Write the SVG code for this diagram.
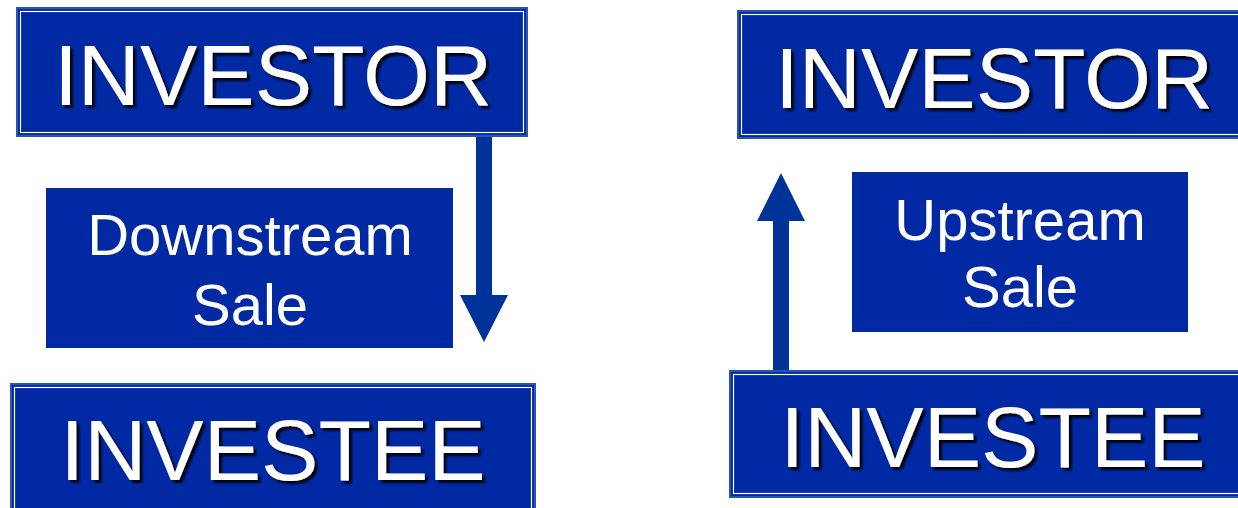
<svg xmlns="http://www.w3.org/2000/svg" width="1238" height="508" viewBox="0 0 1238 508">
<style>
.box{fill:#0029a3;stroke:#2a55b5;stroke-width:2}
.inner{fill:none;stroke:#ffffff;stroke-width:1.2}
.plain{fill:#0029a3}
.big{font-family:"Liberation Sans",Arial,sans-serif;font-size:86px;fill:#ffffff;text-anchor:middle;filter:url(#sh)}
.mid{font-family:"Liberation Sans",Arial,sans-serif;font-size:58px;fill:#ffffff;text-anchor:middle}
.arrow{fill:#003399}
</style>
<defs>
<filter id="sh" x="-10%" y="-20%" width="120%" height="150%">
<feDropShadow dx="3" dy="3" stdDeviation="1" flood-color="#000000" flood-opacity="0.9"/>
</filter>
</defs>
<rect width="1238" height="508" fill="#ffffff"/>
<g id="connectors">
<path class="arrow" d="M476,137 H492 V295 H508 L484,342 L460,295 H476 Z"/>
<path class="arrow" d="M773,372 V221 H757 L781,173 L805,221 H789 V372 Z"/>
</g>
<g id="investor-left">
<rect class="box" x="17" y="8" width="510" height="128"/>
<rect class="inner" x="20.5" y="11.5" width="503" height="121"/>
<text class="big" x="273" y="105">INVESTOR</text>
</g>
<g id="downstream">
<rect class="plain" x="46" y="188" width="407" height="160"/>
<text class="mid" x="250" y="255">Downstream</text>
<text class="mid" x="250" y="325">Sale</text>
</g>
<g id="investee-left">
<rect class="box" x="11" y="384" width="524" height="130"/>
<rect class="inner" x="14.5" y="387.5" width="517" height="130"/>
<text class="big" x="273" y="480">INVESTEE</text>
</g>
<g id="investor-right">
<rect class="box" x="738" y="11" width="510" height="127"/>
<rect class="inner" x="741.5" y="14.5" width="510" height="120"/>
<text class="big" x="994" y="108">INVESTOR</text>
</g>
<g id="upstream">
<rect class="plain" x="852" y="172" width="336" height="160"/>
<text class="mid" x="1020" y="240">Upstream</text>
<text class="mid" x="1020" y="307">Sale</text>
</g>
<g id="investee-right">
<rect class="box" x="730" y="371" width="520" height="126"/>
<rect class="inner" x="733.5" y="374.5" width="520" height="119"/>
<text class="big" x="993" y="467">INVESTEE</text>
</g>
</svg>
